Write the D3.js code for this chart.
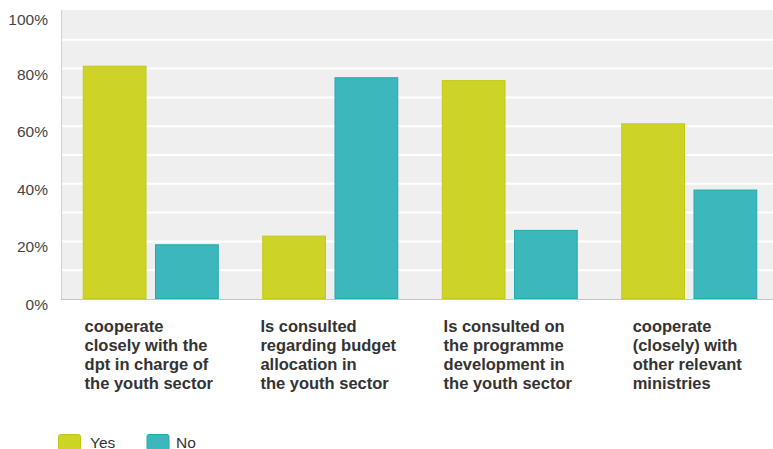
<!DOCTYPE html>
<html>
<head>
<meta charset="utf-8">
<script src="https://cdn.jsdelivr.net/npm/d3@7"></script>
<style>
  html, body { margin: 0; padding: 0; background: #fff; }
  svg { display: block; }
  text { font-family: "Liberation Sans", Arial, sans-serif; }
</style>
</head>
<body>
<svg id="chart" width="773" height="449"></svg>
<script>
// Survey answers per statement (share of respondents)
const categories = [
  ["cooperate", "closely with the", "dpt in charge of", "the youth sector"],
  ["Is consulted", "regarding budget", "allocation in", "the youth sector"],
  ["Is consulted on", "the programme", "development in", "the youth sector"],
  ["cooperate", "(closely) with", "other relevant", "ministries"]
];
const seriesNames = ["Yes", "No"];
const yesValues = [0.81, 0.22, 0.76, 0.61];
const noValues  = [0.19, 0.77, 0.24, 0.38];
const yTicks = [0, 0.2, 0.4, 0.6, 0.8, 1.0];
const gridValues = [0.1, 0.2, 0.3, 0.4, 0.5, 0.6, 0.7, 0.8, 0.9];

const colors = { Yes: "#cdd426", No: "#3cb8bc" };
const strokes = { Yes: "#c2c915", No: "#1faaae" };

const W = 773, H = 449;
const plot = { left: 61, top: 10, bottom: 299, bandEnd: 779 };

const svg = d3.select("#chart");

const catIdx = categories.map((_, i) => i);
const x = d3.scaleBand().domain(catIdx).range([plot.left, plot.bandEnd]).padding(0);
const inner = d3.scaleBand().domain(seriesNames)
  .range([21.75, x.bandwidth() - 21.75]).paddingInner(0.1176).paddingOuter(0);
const y = d3.scaleLinear().domain([0, 1]).range([plot.bottom, 11]);

// plot background
svg.append("rect")
  .attr("x", plot.left).attr("y", plot.top)
  .attr("width", W - plot.left).attr("height", plot.bottom - plot.top)
  .attr("fill", "#efefef");

// horizontal grid
svg.append("g").selectAll("line").data(gridValues).join("line")
  .attr("x1", plot.left).attr("x2", W)
  .attr("y1", d => y(d)).attr("y2", d => y(d))
  .attr("stroke", "#ffffff").attr("stroke-width", 2);

// axis lines
svg.append("line")
  .attr("x1", plot.left + 0.5).attr("x2", plot.left + 0.5)
  .attr("y1", plot.top).attr("y2", plot.bottom + 0.5)
  .attr("stroke", "#d2d2d2").attr("stroke-width", 1);
svg.append("line")
  .attr("x1", plot.left).attr("x2", W)
  .attr("y1", plot.bottom + 0.5).attr("y2", plot.bottom + 0.5)
  .attr("stroke", "#c4c4c4").attr("stroke-width", 1.2);

// y tick labels
svg.append("g").selectAll("text").data(yTicks).join("text")
  .attr("x", 48)
  .attr("y", d => Math.max(y(d) + 11, 25))
  .attr("text-anchor", "end")
  .attr("font-size", "15.5px")
  .attr("fill", "#454545")
  .text(d => Math.round(d * 100) + "%");

// bars
const rows = catIdx.map(i => ({ i, Yes: yesValues[i], No: noValues[i] }));
const groups = svg.append("g").selectAll("g").data(rows).join("g")
  .attr("transform", d => `translate(${x(d.i)},0)`);
groups.selectAll("rect")
  .data(d => seriesNames.map(k => ({ key: k, value: d[k] })))
  .join("rect")
  .attr("x", d => inner(d.key) + 0.5)
  .attr("y", d => y(d.value) + 0.5)
  .attr("width", inner.bandwidth() - 1)
  .attr("height", d => y(0) - y(d.value) - 1)
  .attr("fill", d => colors[d.key])
  .attr("stroke", d => strokes[d.key])
  .attr("stroke-width", 1);

// category labels: left-aligned line blocks centred under each group
const labels = svg.append("g").selectAll("text").data(catIdx).join("text")
  .attr("font-size", "16.5px")
  .attr("font-weight", "bold")
  .attr("fill", "#333333");
labels.each(function (i) {
  const t = d3.select(this);
  categories[i].forEach((line, k) => {
    t.append("tspan").attr("y", 332 + k * 19).text(line);
  });
  let maxW = 0;
  t.selectAll("tspan").each(function () {
    maxW = Math.max(maxW, this.getComputedTextLength());
  });
  const left = x(i) + x.bandwidth() / 2 - 2 - maxW / 2;
  t.selectAll("tspan").attr("x", left);
});

// legend
const legendItems = [
  { key: "Yes", sx: 58.5, tx: 90 },
  { key: "No", sx: 147, tx: 176 }
];
const lg = svg.append("g").selectAll("g").data(legendItems).join("g");
lg.append("rect")
  .attr("x", d => d.sx).attr("y", 434.5)
  .attr("width", 22).attr("height", 16)
  .attr("rx", 2)
  .attr("fill", d => colors[d.key])
  .attr("stroke", d => strokes[d.key]);
lg.append("text")
  .attr("x", d => d.tx).attr("y", 447.5)
  .attr("font-size", "15.5px")
  .attr("fill", "#333333")
  .text(d => d.key);
</script>
</body>
</html>
